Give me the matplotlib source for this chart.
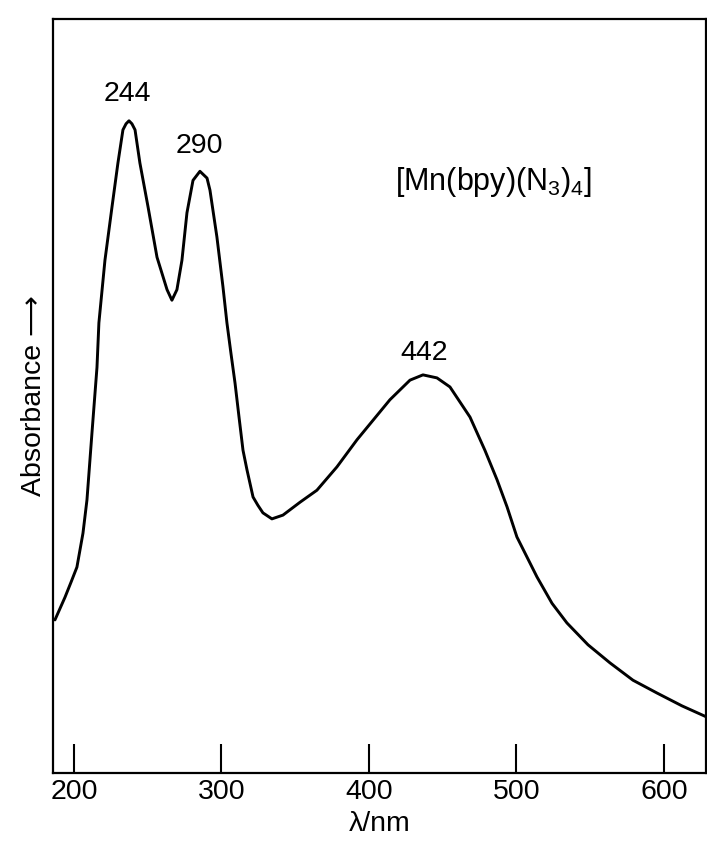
import matplotlib
matplotlib.use("Agg")
import matplotlib.pyplot as plt

# UV-vis spectrum of [Mn(bpy)(N3)4] (arbitrary absorbance units)
wavelength = [187.1, 193.9, 198.0, 202.0, 206.1, 208.8, 212.2, 215.6, 216.9, 221.0,
              225.8, 229.8, 233.2, 235.3, 237.3, 239.3, 241.4, 244.7, 250.2, 256.3,
              263.1, 266.4, 269.8, 273.2, 276.6, 280.7, 285.4, 290.2, 292.2, 296.9,
              301.0, 303.7, 306.4, 309.2, 311.9, 314.6, 317.3, 321.4, 324.7, 328.1,
              334.2, 341.7, 353.2, 364.7, 378.3, 391.9, 414.2, 427.8, 436.6, 446.1,
              454.9, 468.5, 478.6, 486.8, 493.6, 500.3, 513.9, 524.1, 534.2, 548.5,
              563.4, 579.0, 595.3, 612.2, 629.2]
absorbance = [0.203, 0.233, 0.253, 0.273, 0.318, 0.362, 0.451, 0.538, 0.597, 0.680,
              0.751, 0.809, 0.853, 0.861, 0.865, 0.861, 0.853, 0.809, 0.751, 0.684,
              0.641, 0.627, 0.641, 0.680, 0.743, 0.786, 0.798, 0.789, 0.773, 0.711,
              0.645, 0.597, 0.557, 0.517, 0.472, 0.428, 0.402, 0.366, 0.355, 0.345,
              0.337, 0.342, 0.359, 0.375, 0.406, 0.442, 0.495, 0.521, 0.528, 0.524,
              0.512, 0.472, 0.428, 0.389, 0.353, 0.313, 0.260, 0.225, 0.199, 0.170,
              0.146, 0.123, 0.106, 0.089, 0.074]

peak_labels = ["244", "290", "442"]
peak_x = [235.9, 284.7, 437.3]
peak_y = [0.891, 0.822, 0.548]

xticks = [200, 300, 400, 500, 600]

plt.rcParams['font.family'] = ['Liberation Sans', 'DejaVu Sans']
plt.rcParams['mathtext.fontset'] = 'custom'
plt.rcParams['mathtext.rm'] = 'Liberation Sans'
plt.rcParams['mathtext.it'] = 'Liberation Sans'

fig = plt.figure(figsize=(7.07, 8.41), dpi=100)
ax = fig.add_axes([0.075, 0.0809, 0.9236, 0.8965])

ax.plot(wavelength, absorbance, color='black', lw=2.1,
        solid_joinstyle='round', solid_capstyle='round')

ax.set_xlim(185.8, 628.5)
ax.set_ylim(0, 1)
ax.set_xticks(xticks)
ax.set_yticks([])
ax.tick_params(axis='x', direction='in', length=21, width=1.5, pad=4, labelsize=20.5)
for s in ax.spines.values():
    s.set_linewidth(1.6)

for lab, x, y in zip(peak_labels, peak_x, peak_y):
    ax.text(x, y, lab, ha='center', va='baseline', fontsize=20.5)

ax.text(484.7, 0.773, "[Mn(bpy)(N$_3$)$_4$]", ha='center', va='baseline', fontsize=22)

ax.set_xlabel("λ/nm", fontsize=20.5, labelpad=5)
ax.set_ylabel("Absorbance ⟶", fontsize=20.5, labelpad=4)

fig.savefig("out.png", dpi=100)
